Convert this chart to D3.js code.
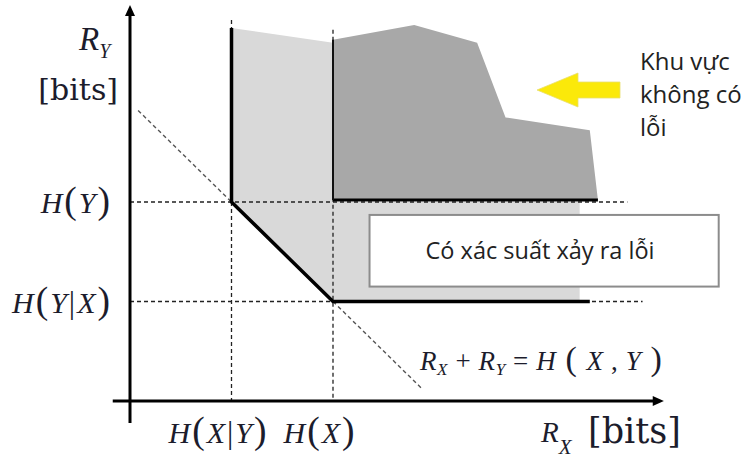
<!DOCTYPE html>
<html>
<head>
<meta charset="utf-8">
<script src="https://cdn.jsdelivr.net/npm/d3@7"></script>
<style>
  html, body { margin: 0; padding: 0; background: #fff; }
  svg { display: block; }
</style>
</head>
<body>
<svg id="chart" width="745" height="462"></svg>
<script>
// Entropy values (bits) of the two correlated sources
const entropyXgivenY = 1;   // H(X|Y)
const entropyX = 2;         // H(X)
const entropyYgivenX = 1;   // H(Y|X)
const entropyY = 2;         // H(Y)
const jointEntropy = 3;     // H(X,Y)

// Tick positions on each axis with their labels
const xTickValues = [entropyXgivenY, entropyX];
const xTickLabels = ["H(X|Y)", "H(X)"];
const yTickValues = [entropyY, entropyYgivenX];
const yTickLabels = ["H(Y)", "H(Y|X)"];

// Achievable rate region (light) and the zero-error region (dark), in bits
const achievableRegion = [[1, 3.75], [2, 3.60], [2, 2], [4.43, 2], [4.43, 1], [2, 1], [1, 2]];
const errorFreeRegion = [[2, 3.63], [2.80, 3.78], [3.42, 3.60], [3.70, 2.85], [4.53, 2.72], [4.61, 2.02], [2, 2.02]];

// Boundaries drawn as heavy lines
const rateBoundary = [[1, 3.75], [1, 2], [2, 1], [4.53, 1]];
const errorFreeBase = [[2, 2.02], [4.61, 2.02]];
const errorFreeEdge = [[2, 3.63], [2, 2.02]];

// Dashed guide lines
const guideLines = [
  [[1, 3.83], [1, 0]],
  [[2, 3.73], [2, 0]],
  [[0, 2], [4.90, 2]],
  [[0, 1], [5.05, 1]]
];
const sumRateLine = [[0.08, jointEntropy - 0.08], [2.88, jointEntropy - 2.88]];

const svg = d3.select("#chart");
const x = d3.scaleLinear().domain([0, 5]).range([130, 637.5]);
const y = d3.scaleLinear().domain([0, 4]).range([401, 3]);
const line = d3.line().x(d => x(d[0])).y(d => y(d[1]));

// regions
svg.append("path").attr("d", line(achievableRegion) + "Z").attr("fill", "#d9d9d9");
svg.append("path").attr("d", line(errorFreeRegion) + "Z").attr("fill", "#a8a8a8");

// label box for the error-prone area
const box = svg.append("g");
box.append("rect")
  .attr("x", x(2.36)).attr("y", y(1.87))
  .attr("width", x(5.80) - x(2.36)).attr("height", y(1.15) - y(1.87))
  .attr("fill", "#fff").attr("stroke", "#8c8c8c").attr("stroke-width", 2);
box.append("text")
  .attr("x", 540).attr("y", 259)
  .attr("text-anchor", "middle")
  .attr("font-family", "'Open Sans', sans-serif")
  .attr("font-size", 23.5)
  .attr("fill", "#222")
  .text("Có xác suất xảy ra lỗi");

// dashed guides
guideLines.forEach(g => {
  svg.append("path").attr("d", line(g))
    .attr("fill", "none").attr("stroke", "#222")
    .attr("stroke-width", 1.3).attr("stroke-dasharray", "4,3");
});
svg.append("path").attr("d", line(sumRateLine))
  .attr("fill", "none").attr("stroke", "#555")
  .attr("stroke-width", 1.4).attr("stroke-dasharray", "4,3");

// heavy boundaries
svg.append("path").attr("d", line(rateBoundary))
  .attr("fill", "none").attr("stroke", "#000").attr("stroke-width", 3.5)
  .attr("stroke-linejoin", "miter");
svg.append("path").attr("d", line(errorFreeBase))
  .attr("fill", "none").attr("stroke", "#000").attr("stroke-width", 3);
svg.append("path").attr("d", line(errorFreeEdge))
  .attr("fill", "none").attr("stroke", "#111").attr("stroke-width", 2);

// axes with arrowheads
svg.append("path").attr("d", line([[0, -0.22], [0, 3.88]]))
  .attr("stroke", "#000").attr("stroke-width", 3);
svg.append("path").attr("d", line([[-0.17, 0], [5.18, 0]]))
  .attr("stroke", "#000").attr("stroke-width", 3);
svg.append("path")
  .attr("d", `M${x(0)},${y(3.98)} L${x(0) - 5},${y(3.87)} L${x(0) + 5},${y(3.87)} Z`)
  .attr("fill", "#000");
svg.append("path")
  .attr("d", `M${x(5.26)},${y(0)} L${x(5.15)},${y(0) - 5} L${x(5.15)},${y(0) + 5} Z`)
  .attr("fill", "#000");

// math label helper: letters italic, punctuation upright
function mathText(sel, str, size) {
  for (const ch of str) {
    const t = sel.append("tspan").text(ch);
    if (/[A-Za-z]/.test(ch)) t.attr("font-style", "italic");
    if (ch === "(" || ch === ")") t.attr("font-size", size * 1.25).attr("font-weight", 300);
    if (ch === "|") t.attr("font-size", size * 1.05);
  }
}

const serif = "'Liberation Serif', 'Times New Roman', serif";
const uprightSerif = "'DejaVu Serif', serif";
const mathColor = "#1c1c2c";
const tickSize = 30;

// y tick labels
yTickValues.forEach((v, i) => {
  const t = svg.append("text")
    .attr("x", 112).attr("y", y(v) + 11)
    .attr("text-anchor", "end")
    .attr("letter-spacing", 2)
    .attr("font-family", serif).attr("font-size", tickSize).attr("fill", mathColor);
  mathText(t, yTickLabels[i], tickSize);
});

// x tick labels
xTickValues.forEach((v, i) => {
  const t = svg.append("text")
    .attr("x", x(v) - 13).attr("y", 443)
    .attr("text-anchor", "middle")
    .attr("letter-spacing", 2)
    .attr("font-family", serif).attr("font-size", tickSize).attr("fill", mathColor);
  mathText(t, xTickLabels[i], tickSize);
});

// axis titles
const ry = svg.append("text").attr("x", 79).attr("y", 50)
  .attr("font-family", serif).attr("font-size", 33).attr("fill", mathColor);
ry.append("tspan").attr("font-style", "italic").text("R");
ry.append("tspan").attr("font-style", "italic").attr("font-size", 20).attr("dy", 8).text("Y");
svg.append("text").attr("x", 118).attr("y", 100).attr("text-anchor", "end")
  .attr("font-family", uprightSerif).attr("font-size", 30).attr("fill", mathColor).text("[bits]");

const rx = svg.append("text").attr("x", 541).attr("y", 442)
  .attr("font-family", serif).attr("font-size", 29).attr("fill", mathColor);
rx.append("tspan").attr("font-style", "italic").text("R");
rx.append("tspan").attr("font-style", "italic").attr("font-size", 21).attr("dy", 12).text("X");
svg.append("text").attr("x", 588).attr("y", 443)
  .attr("font-family", uprightSerif).attr("font-size", 35).attr("fill", mathColor).text("[bits]");

// sum-rate equation
const eq = svg.append("text").attr("x", 420).attr("y", 370)
  .attr("font-family", serif).attr("font-size", 27).attr("letter-spacing", 0.6).attr("fill", mathColor);
eq.append("tspan").attr("font-style", "italic").text("R");
eq.append("tspan").attr("font-style", "italic").attr("font-size", 17).attr("dy", 5).text("X");
eq.append("tspan").attr("dy", -5).text(" + ");
eq.append("tspan").attr("font-style", "italic").text("R");
eq.append("tspan").attr("font-style", "italic").attr("font-size", 17).attr("dy", 5).text("Y");
eq.append("tspan").attr("dy", -5).text(" = ");
eq.append("tspan").attr("font-style", "italic").text("H");
eq.append("tspan").attr("font-size", 34).attr("font-weight", 300).text(" ( ");
eq.append("tspan").attr("font-style", "italic").text("X");
eq.append("tspan").text(" , ");
eq.append("tspan").attr("font-style", "italic").text("Y");
eq.append("tspan").attr("font-size", 34).attr("font-weight", 300).text(" )");

// pointer arrow to the zero-error region
svg.append("path")
  .attr("d", `M537,90 L578,73 L578,82 L620,82 L620,98 L578,98 L578,107 Z`)
  .attr("fill", "#fbe90a").attr("stroke", "#e8de70").attr("stroke-width", 0.8);

const note = svg.append("text")
  .attr("font-family", "'Open Sans', sans-serif").attr("font-size", 24).attr("fill", "#222");
["Khu vực", "không có", "lỗi"].forEach((s, i) => {
  note.append("tspan").attr("x", 640).attr("y", 70 + i * 33).text(s);
});
</script>
</body>
</html>
